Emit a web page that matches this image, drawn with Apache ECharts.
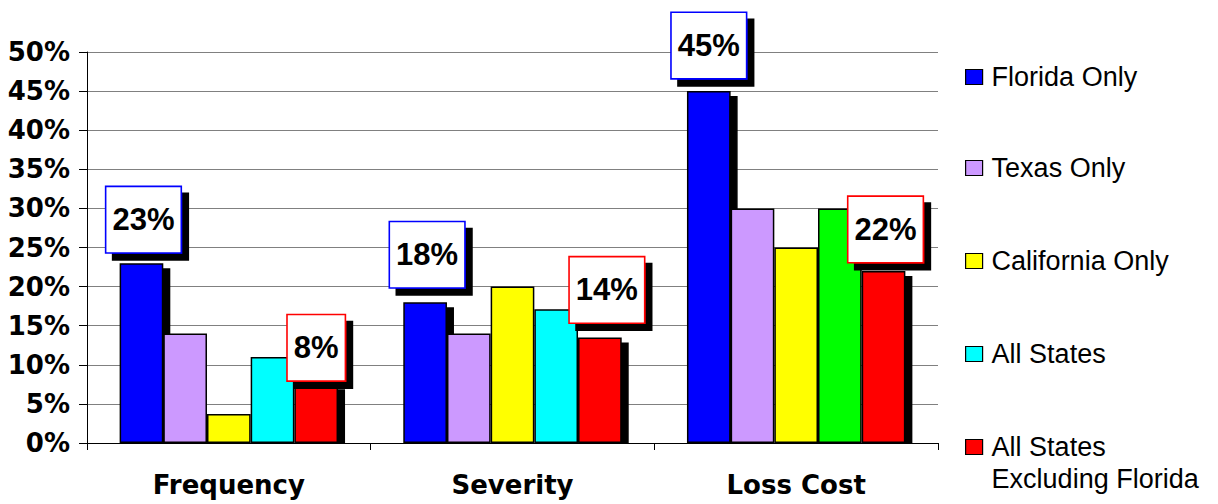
<!DOCTYPE html>
<html>
<head>
<meta charset="utf-8">
<title>Frequency, Severity and Loss Cost</title>
<script src="https://cdn.jsdelivr.net/npm/echarts@6/dist/echarts.min.js"></script>
<style>
  html, body { margin: 0; padding: 0; background: #ffffff; }
  #chart { width: 1218px; height: 504px; }
</style>
</head>
<body>
<div id="chart"></div>
<script>
// Measures shown on the x axis
const categories = ['Frequency', 'Severity', 'Loss Cost'];

// Percent change by state group, one value per measure
const floridaOnly = [23, 18, 45];
const texasOnly = [14, 14, 30];
const californiaOnly = [3.7, 20, 25];
const allStates = [11, 17.1, 30];
const allStatesExclFlorida = [7.5, 13.5, 22];

// Y axis ticks (percent)
const yTicks = [0, 5, 10, 15, 20, 25, 30, 35, 40, 45, 50];

// Series names as they appear in the legend
const seriesNames = ['Florida Only', 'Texas Only', 'California Only', 'All States', 'All States\nExcluding Florida'];

// ---- styling / placement (kept apart from the values above) ----
const colors = ['#0000ff', '#cc99ff', '#ffff00', '#00ffff', '#ff0000'];
const lossCostAllStatesColor = '#00ff00';
const legendCenters = [77, 168, 261, 354, 447];
// callout box nudges [dx, dy] relative to the top of each bar
const floridaCalloutShift = [[2, -11], [2, -15], [0, -13]];
const exclCalloutShift = [[0, -4], [7, -15], [2, -9]];

// SVG output keeps each drop shadow underneath its whole shape (fill + outline)
const chart = echarts.init(document.getElementById('chart'), null, { renderer: 'svg' });

const axisFont = 'DejaVu Sans';
const textFont = 'Liberation Sans';

function callout(borderColor) {
  return {
    show: true,
    position: 'top',
    distance: 0,
    formatter: p => Math.round(p.value) + '%',
    fontFamily: textFont,
    fontWeight: 'bold',
    fontSize: 31,
    lineHeight: 31,
    color: '#000',
    backgroundColor: '#fff',
    borderColor: borderColor,
    borderWidth: 1.6,
    padding: [17, 6, 17, 6],
    shadowColor: '#000',
    shadowBlur: 0,
    shadowOffsetX: 7,
    shadowOffsetY: 7
  };
}

const baseItem = { borderColor: '#000', borderWidth: 1.5 };
const shadowItem = { shadowColor: '#000', shadowBlur: 0, shadowOffsetX: 7, shadowOffsetY: 5 };

function barSeries(idx, values, extra) {
  return Object.assign({
    name: seriesNames[idx],
    type: 'bar',
    barGap: '0%',
    barCategoryGap: '23%',
    animation: false,
    itemStyle: Object.assign({ color: colors[idx] }, baseItem),
    emphasis: { disabled: true },
    data: values.slice()
  }, extra || {});
}

const series = [
  barSeries(0, floridaOnly, {
    itemStyle: Object.assign({ color: colors[0] }, baseItem, shadowItem),
    label: callout('#0000ff'),
    data: floridaOnly.map((v, i) => ({ value: v, label: { offset: floridaCalloutShift[i] } }))
  }),
  barSeries(1, texasOnly),
  barSeries(2, californiaOnly),
  barSeries(3, allStates, {
    data: allStates.map((v, i) => i === 2
      ? { value: v, itemStyle: { color: lossCostAllStatesColor } }
      : v)
  }),
  barSeries(4, allStatesExclFlorida, {
    itemStyle: Object.assign({ color: colors[4] }, baseItem, shadowItem),
    label: callout('#ff0000'),
    data: allStatesExclFlorida.map((v, i) => ({ value: v, label: { offset: exclCalloutShift[i] } }))
  })
];

// one legend block per entry so each row sits where it should;
// a two-line name gets an empty line on top so its first line lines up with the swatch
const legends = seriesNames.map((name, i) => {
  const twoLines = name.indexOf('\n') >= 0;
  return {
    data: [name],
    orient: 'vertical',
    left: 965,
    top: legendCenters[i] - (twoLines ? 48 : 15),
    padding: 0,
    itemWidth: 17,
    itemHeight: 15,
    selectedMode: false,
    icon: 'rect',
    formatter: n => (n.indexOf('\n') >= 0 ? '\n' + n : n),
    itemStyle: { borderColor: '#000', borderWidth: 1.2, shadowBlur: 0, shadowOffsetX: 0, shadowOffsetY: 0, shadowColor: 'rgba(0,0,0,0)' },
    textStyle: {
      fontFamily: textFont,
      fontSize: 27,
      lineHeight: twoLines ? 32 : 30,
      color: '#000',
      padding: [0, 0, 0, 4]
    }
  };
});

const option = {
  backgroundColor: '#ffffff',
  animation: false,
  color: colors,
  grid: { left: 87, right: 280, top: 52, bottom: 61, containLabel: false },
  legend: legends,
  xAxis: {
    type: 'category',
    z: 10,
    data: categories,
    axisLine: { lineStyle: { color: '#000', width: 1 } },
    axisTick: { show: true, length: 7, lineStyle: { color: '#000' } },
    axisLabel: {
      fontFamily: axisFont,
      fontWeight: 'bold',
      fontSize: 26,
      color: '#000',
      margin: 29
    },
    splitLine: { show: false }
  },
  yAxis: {
    type: 'value',
    min: yTicks[0],
    max: yTicks[yTicks.length - 1],
    interval: yTicks[1] - yTicks[0],
    axisLine: { show: true, lineStyle: { color: '#000', width: 1 } },
    axisTick: { show: true, length: 8, lineStyle: { color: '#000' } },
    axisLabel: {
      formatter: '{value}%',
      fontFamily: axisFont,
      fontWeight: 'bold',
      fontSize: 26,
      color: '#000',
      margin: 17
    },
    splitLine: { show: true, lineStyle: { color: '#808080', width: 1 } }
  },
  series: series
};

chart.setOption(option);

// Bar shadows stop at the baseline: a white strip just under the x axis line,
// limited to the plot width (the axis and its ticks are drawn above it),
// hides the part of each shadow that would fall below zero.
const baseY = chart.convertToPixel({ yAxisIndex: 0 }, 0);
const firstX = chart.convertToPixel({ xAxisIndex: 0 }, 0);
const lastX = chart.convertToPixel({ xAxisIndex: 0 }, categories.length - 1);
const band = categories.length > 1 ? (lastX - firstX) / (categories.length - 1) : 100;
chart.setOption({
  graphic: [{
    type: 'rect',
    silent: true,
    z: 5,
    shape: { x: firstX - band / 2 + 1, y: baseY + 0.5, width: (lastX - firstX) + band - 2, height: 6 },
    style: { fill: '#ffffff' }
  }]
});
</script>
</body>
</html>
